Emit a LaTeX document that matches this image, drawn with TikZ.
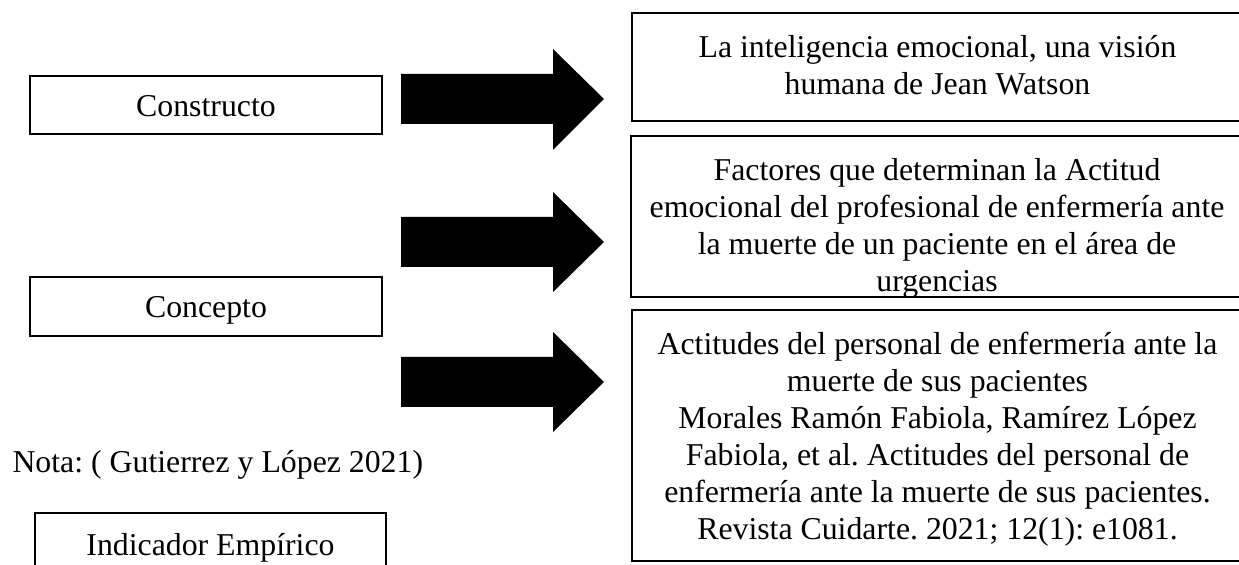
\documentclass[tikz,border=0pt]{standalone}
\usepackage{fontspec}
\setmainfont{Liberation Serif}
\frenchspacing
\begin{document}
\begin{tikzpicture}[x=0.3774pt, y=-0.3774pt, font=\fontsize{12}{14}\selectfont, line join=miter,
		caja/.style={line width=0.6pt},
		texto/.style={inner sep=0pt},
		flecha/.style={fill=black}]
	\useasboundingbox (0,0) rectangle (1239,565);
	% columna izquierda
	\draw[caja] (30,76) rectangle (382,134);
	\node[texto, anchor=base] (constructo) at (206,117) {Constructo};
	\draw[caja] (30,277) rectangle (382,336);
	\node[texto, anchor=base] (concepto) at (206,318) {Concepto};
	\node[texto, anchor=base west] (nota) at (12,473) {Nota: ( Gutierrez y López 2021)};
	\draw[caja] (35,513) rectangle (386,580);
	\node[texto, anchor=base] (indicador) at (210.5,556) {Indicador Empírico};
	% flechas
	\fill[flecha] (401,74)--(553,74)--(553,49)--(604,99)--(553,150)--(553,124)--(401,124)--cycle;
	\fill[flecha] (401,217)--(553,217)--(553,192)--(604,242)--(553,292)--(553,267)--(401,267)--cycle;
	\fill[flecha] (401,357)--(553,357)--(553,332)--(604,382)--(553,432)--(553,407)--(401,407)--cycle;
	% columna derecha
	\draw[caja] (632,13) rectangle (1246,121);
	\node[texto, anchor=north, align=center] (watson) at (937.5,31)
		{\strut La inteligencia emocional, una visión\\ humana de Jean Watson};
	\begin{scope}
		\clip (631,136) rectangle (1246,297);
		\node[texto, anchor=north, align=center] (factores) at (937,154)
			{\strut Factores que determinan la Actitud\\ emocional del profesional de enfermería ante\\ la muerte de un paciente en el área de\\ urgencias};
	\end{scope}
	\draw[caja] (631,136) rectangle (1246,297);
	\draw[caja] (632,310) rectangle (1246,561);
	\node[texto, anchor=north, align=center] (actitudes) at (937.5,328)
		{\strut Actitudes del personal de enfermería ante la\\ muerte de sus pacientes\\ Morales Ramón Fabiola, Ramírez López\\ Fabiola, et al. Actitudes del personal de\\ enfermería ante la muerte de sus pacientes.\\ Revista Cuidarte. 2021; 12(1): e1081.};
\end{tikzpicture}
\end{document}
